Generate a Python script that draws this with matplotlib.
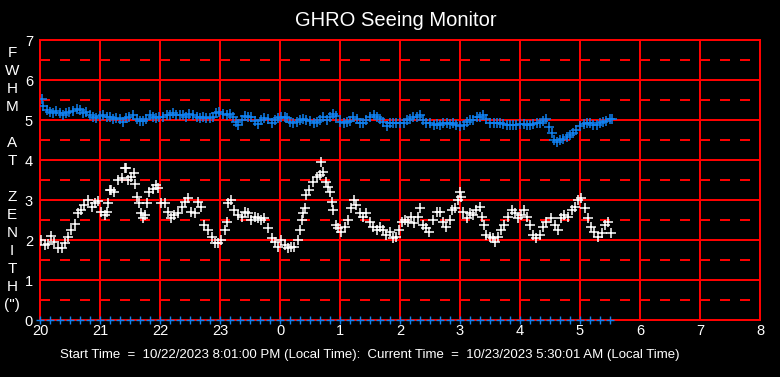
import numpy as np
import matplotlib
matplotlib.use("Agg")
import matplotlib.pyplot as plt

# ---------------- data ----------------
fwhm_hours = [20.02, 20.08, 20.13, 20.19, 20.24, 20.30, 20.36, 20.41, 20.47, 20.52, 20.58, 20.63,
              20.69, 20.74, 20.80, 20.86, 20.91, 20.97, 21.02, 21.08, 21.11, 21.14, 21.17, 21.19,
              21.24, 21.30, 21.36, 21.41, 21.44, 21.47, 21.52, 21.56, 21.59, 21.62, 21.65, 21.69,
              21.72, 21.75, 21.78, 21.82, 21.88, 21.94, 21.97, 22.02, 22.08, 22.13, 22.19, 22.24,
              22.30, 22.36, 22.41, 22.47, 22.52, 22.58, 22.63, 22.69, 22.74, 22.80, 22.86, 22.91,
              22.97, 23.02, 23.08, 23.11, 23.13, 23.19, 23.24, 23.30, 23.36, 23.41, 23.47, 23.52,
              23.58, 23.63, 23.69, 23.74, 23.80, 23.86, 23.91, 23.97, 24.02, 24.08, 24.13, 24.19,
              24.24, 24.30, 24.33, 24.36, 24.38, 24.41, 24.44, 24.49, 24.55, 24.61, 24.66, 24.68,
              24.72, 24.77, 24.80, 24.83, 24.86, 24.88, 24.94, 24.97, 25.02, 25.08, 25.13, 25.19,
              25.23, 25.27, 25.33, 25.38, 25.44, 25.50, 25.55, 25.61, 25.66, 25.72, 25.77, 25.83,
              25.88, 25.94, 25.99, 26.03, 26.08, 26.13, 26.19, 26.24, 26.30, 26.33, 26.38, 26.44,
              26.49, 26.55, 26.61, 26.66, 26.72, 26.77, 26.83, 26.86, 26.91, 26.97, 27.00, 27.02,
              27.05, 27.11, 27.16, 27.22, 27.27, 27.33, 27.36, 27.40, 27.44, 27.50, 27.55, 27.58,
              27.63, 27.69, 27.74, 27.80, 27.86, 27.91, 27.97, 28.02, 28.07, 28.11, 28.16, 28.22,
              28.27, 28.33, 28.38, 28.44, 28.52, 28.58, 28.63, 28.69, 28.74, 28.80, 28.86, 28.91,
              28.97, 29.02, 29.08, 29.13, 29.19, 29.24, 29.30, 29.36, 29.41, 29.46, 29.51]
fwhm_values = [2.00, 1.87, 1.90, 2.10, 1.96, 1.79, 1.80, 1.92, 2.07, 2.25, 2.40, 2.67,
               2.75, 2.87, 3.00, 2.83, 2.92, 2.98, 2.70, 2.62, 2.70, 2.92, 3.25, 3.25,
               3.20, 3.50, 3.54, 3.79, 3.79, 3.50, 3.58, 3.67, 3.40, 3.08, 2.92, 2.67,
               2.54, 2.62, 2.92, 3.20, 3.27, 3.37, 3.30, 2.93, 2.92, 2.71, 2.54, 2.62,
               2.67, 2.83, 2.96, 3.04, 2.71, 2.67, 2.96, 2.83, 2.38, 2.25, 2.08, 1.92,
               1.92, 2.00, 2.25, 2.46, 2.92, 3.00, 2.75, 2.62, 2.58, 2.71, 2.67, 2.50,
               2.58, 2.54, 2.50, 2.54, 2.29, 2.04, 1.96, 1.83, 2.00, 1.87, 1.79, 1.83,
               1.83, 2.00, 2.25, 2.50, 2.67, 2.79, 3.12, 3.25, 3.46, 3.58, 3.62, 3.96,
               3.71, 3.46, 3.33, 3.21, 2.96, 2.75, 2.38, 2.29, 2.21, 2.33, 2.50, 2.79,
               3.00, 2.88, 2.67, 2.58, 2.67, 2.46, 2.33, 2.25, 2.33, 2.25, 2.12, 2.21,
               2.04, 2.08, 2.25, 2.46, 2.50, 2.46, 2.58, 2.42, 2.58, 2.79, 2.38, 2.29,
               2.21, 2.50, 2.71, 2.71, 2.46, 2.33, 2.50, 2.75, 2.79, 3.00, 3.21, 3.08,
               2.71, 2.54, 2.67, 2.62, 2.75, 2.83, 2.58, 2.38, 2.12, 2.08, 2.04, 1.96,
               2.08, 2.25, 2.38, 2.58, 2.75, 2.67, 2.54, 2.62, 2.75, 2.58, 2.38, 2.12,
               2.04, 2.12, 2.33, 2.46, 2.54, 2.38, 2.25, 2.54, 2.62, 2.58, 2.75, 2.83,
               3.00, 3.04, 2.79, 2.54, 2.33, 2.21, 2.08, 2.17, 2.38, 2.46, 2.17]

blue_hours = [20.03, 20.05, 20.11, 20.16, 20.22, 20.27, 20.33, 20.38, 20.44, 20.49, 20.55, 20.61,
              20.66, 20.72, 20.77, 20.83, 20.88, 20.94, 21.00, 21.05, 21.11, 21.16, 21.22, 21.27,
              21.33, 21.38, 21.44, 21.49, 21.55, 21.61, 21.66, 21.72, 21.77, 21.83, 21.88, 21.94,
              21.99, 22.05, 22.11, 22.16, 22.22, 22.27, 22.33, 22.38, 22.44, 22.49, 22.55, 22.61,
              22.66, 22.72, 22.77, 22.83, 22.88, 22.94, 22.99, 23.05, 23.11, 23.16, 23.22, 23.27,
              23.30, 23.36, 23.41, 23.47, 23.52, 23.58, 23.63, 23.69, 23.74, 23.80, 23.86, 23.91,
              23.97, 24.02, 24.08, 24.11, 24.17, 24.22, 24.28, 24.33, 24.39, 24.44, 24.50, 24.56,
              24.61, 24.67, 24.72, 24.78, 24.83, 24.89, 24.94, 25.00, 25.06, 25.11, 25.17, 25.22,
              25.28, 25.33, 25.39, 25.44, 25.50, 25.56, 25.61, 25.67, 25.72, 25.78, 25.83, 25.89,
              25.94, 26.00, 26.06, 26.11, 26.17, 26.22, 26.28, 26.33, 26.39, 26.44, 26.50, 26.56,
              26.61, 26.67, 26.72, 26.78, 26.83, 26.89, 26.94, 27.00, 27.06, 27.11, 27.17, 27.22,
              27.28, 27.33, 27.39, 27.44, 27.50, 27.56, 27.61, 27.67, 27.72, 27.78, 27.83, 27.89,
              27.94, 28.00, 28.06, 28.11, 28.17, 28.22, 28.28, 28.33, 28.39, 28.44, 28.49, 28.53,
              28.56, 28.61, 28.67, 28.72, 28.78, 28.83, 28.89, 28.94, 29.00, 29.06, 29.11, 29.17,
              29.22, 29.28, 29.33, 29.39, 29.44, 29.50, 29.53]
blue_values = [5.52, 5.35, 5.25, 5.21, 5.17, 5.23, 5.17, 5.12, 5.18, 5.20, 5.23, 5.27,
               5.25, 5.17, 5.20, 5.12, 5.07, 5.04, 5.10, 5.12, 5.08, 5.07, 5.03, 5.06,
               5.02, 4.96, 5.04, 5.08, 5.12, 5.02, 4.97, 4.98, 5.02, 5.12, 5.07, 5.04,
               5.07, 5.08, 5.12, 5.13, 5.17, 5.12, 5.13, 5.12, 5.08, 5.15, 5.12, 5.08,
               5.05, 5.08, 5.04, 5.05, 5.07, 5.17, 5.21, 5.15, 5.13, 5.15, 5.08, 4.96,
               4.87, 5.00, 5.10, 5.07, 5.08, 4.98, 4.90, 5.00, 5.05, 5.02, 4.93, 5.00,
               5.05, 5.07, 5.08, 5.04, 4.96, 4.92, 4.96, 5.00, 5.02, 5.00, 4.98, 4.93,
               4.96, 5.00, 5.07, 5.00, 5.08, 5.15, 5.10, 4.96, 4.93, 4.96, 4.98, 5.07,
               5.02, 4.93, 4.93, 5.00, 5.08, 5.12, 5.07, 5.02, 4.96, 4.85, 4.92, 4.92,
               4.93, 4.92, 4.93, 5.00, 5.02, 5.07, 5.07, 5.12, 5.00, 4.92, 4.92, 4.88,
               4.90, 4.88, 4.92, 4.92, 4.90, 4.92, 4.88, 4.85, 4.88, 4.96, 5.00, 5.00,
               5.07, 5.08, 5.12, 5.02, 4.93, 4.92, 4.93, 4.92, 4.90, 4.87, 4.88, 4.87,
               4.88, 4.89, 4.90, 4.87, 4.88, 4.89, 4.92, 4.92, 4.98, 5.02, 4.83, 4.68,
               4.50, 4.46, 4.50, 4.52, 4.58, 4.62, 4.67, 4.75, 4.85, 4.90, 4.93, 4.92,
               4.87, 4.87, 4.92, 4.96, 4.98, 5.02, 5.03]

# status markers along the baseline, one every 10 minutes
base_hours = np.arange(20.0, 29.51, 1.0 / 6.0)
base_values = np.zeros_like(base_hours)

x_ticks = list(range(20, 33))
x_tick_labels = [str(h % 24) for h in x_ticks]
y_ticks = list(range(0, 8))
y_letters = ["F", "W", "H", "M", "", "A", "T", "", "Z", "E", "N", "I", "T", "H", '(")']

title = "GHRO Seeing Monitor"
footer = ("Start Time  =  10/22/2023 8:01:00 PM (Local Time):  "
          "Current Time  =  10/23/2023 5:30:01 AM (Local Time)")

# ---------------- figure ----------------
W, H = 780, 377
plt.rcParams['font.family'] = ['Liberation Sans', 'DejaVu Sans']
fig = plt.figure(figsize=(W / 100, H / 100), dpi=100, facecolor='black')
ax = fig.add_axes([40 / W, (H - 320) / H, 720 / W, 280 / H], facecolor='black')

RED = '#ff0000'
BLUE = '#1080f0'
lw = 1.44

# grid
for y in range(1, 7):
    ax.axhline(y, color=RED, lw=lw, zorder=1)
for y in np.arange(0.5, 7, 1.0):
    ax.axhline(y, color=RED, lw=lw, dashes=(5.0, 5.0), zorder=1)
for x in range(21, 32):
    ax.axvline(x, color=RED, lw=lw, zorder=1)

ms = 6.5
mew = 1.1
ax.plot(fwhm_hours, fwhm_values, linestyle='none', marker='+', color='white',
        ms=ms, mew=mew, zorder=3)
ax.plot(blue_hours, blue_values, linestyle='none', marker='+', color=BLUE,
        ms=ms, mew=mew, zorder=3)
ax.plot(base_hours, base_values, linestyle='none', marker='+', color=BLUE,
        ms=5.5, mew=1.0, zorder=3, clip_on=False)

ax.set_xlim(20, 32)
ax.set_ylim(0, 7)
ax.set_xticks(x_ticks)
ax.set_xticklabels(x_tick_labels)
ax.set_yticks(y_ticks)
ax.tick_params(axis='both', length=0, colors='white', labelsize=10.5)
ax.tick_params(axis='x', pad=3)
ax.tick_params(axis='y', pad=5)
for s in ax.spines.values():
    s.set_color(RED)
    s.set_linewidth(lw)

fig.text(396 / W, 1 - 21 / H, title, color='white', fontsize=14.5, ha='center', va='center')

for i, ch in enumerate(y_letters):
    if ch:
        fig.text(12 / W, 1 - (53 + i * 18.0) / H, ch, color='white', fontsize=11,
                 ha='center', va='center')

fig.text(370 / W, 1 - 355 / H, footer, color='white', fontsize=9.5, ha='center', va='center')

fig.savefig('out.png', dpi=100, facecolor='black')
